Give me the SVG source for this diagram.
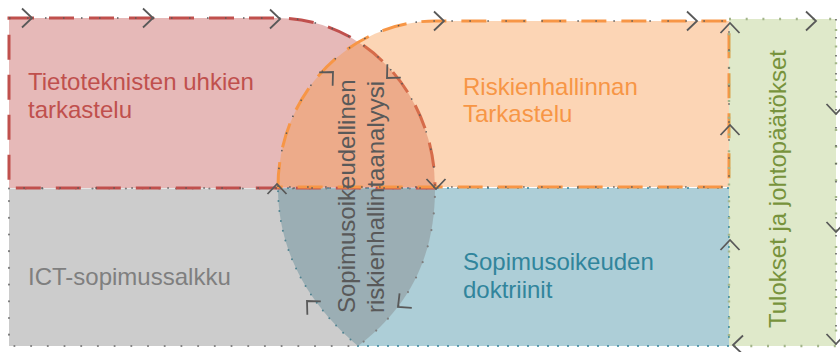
<svg xmlns="http://www.w3.org/2000/svg" xmlns:xlink="http://www.w3.org/1999/xlink" width="840" height="352" viewBox="0 0 840 352">
<style>
text{font-family:"Liberation Sans",Arial,sans-serif;font-size:24px}
.conn{fill:none;stroke:#595959;stroke-width:1.5;stroke-dasharray:1.5 16.5}
.chev{fill:none;stroke:#595959;stroke-width:1.8;stroke-linejoin:miter}
</style>
<defs>
<path id="chev" class="chev" d="M-10,-9.5 L0,0 L-10,9.5"/>
</defs>
<rect width="840" height="352" fill="#ffffff"/>
<g id="node-blue">
<path d="M278,188 H729 V346 H358 C315,310 278,258 278,188 Z" fill="#31859C" fill-opacity="0.4"/>
<path d="M278,188 H729 V346 H358 C315,310 278,258 278,188 Z" fill="none" stroke="#31859C" stroke-width="2" stroke-linecap="round" stroke-dasharray="0 10"/>
<text x="463" y="270" fill="#31859C">Sopimusoikeuden</text>
<text x="463" y="298" fill="#31859C">doktriinit</text>
</g>
<g id="node-grey">
<path d="M9,188.5 H435 C435,262 405,310 358,346 H9 Z" fill="#7F7F7F" fill-opacity="0.4"/>
<path d="M9,188.5 H435 C435,262 405,310 358,346 H9 Z" fill="none" stroke="#7F7F7F" stroke-width="2.2" stroke-linecap="round" stroke-dasharray="0 16.7"/>
<text x="28" y="285" fill="#7F7F7F">ICT-sopimussalkku</text>
</g>
<g id="node-red">
<path d="M9,18 H278 A157,170 0 0 1 435,188 H9 Z" fill="#C0504D" fill-opacity="0.4"/>
<path d="M9,18 H278 A157,170 0 0 1 435,188 H9 Z" fill="none" stroke="#C0504D" stroke-width="3" stroke-dasharray="25 15"/>
<text x="28" y="90" fill="#C0504D">Tietoteknisten uhkien</text>
<text x="28" y="118" fill="#C0504D">tarkastelu</text>
</g>
<g id="node-orange">
<path d="M278,187 A157,166 0 0 1 435,21 H729 V187 Z" fill="#F79646" fill-opacity="0.4"/>
<path d="M278,187 A157,166 0 0 1 435,21 H729 V187 Z" fill="none" stroke="#F79646" stroke-width="3" stroke-dasharray="25 15"/>
<text x="463" y="95" fill="#F79646">Riskienhallinnan</text>
<text x="463" y="122" fill="#F79646">Tarkastelu</text>
</g>
<g id="node-green">
<rect x="729" y="19" width="107" height="327" fill="#9BBB59" fill-opacity="0.32"/>
<rect x="729" y="19" width="107" height="327" fill="none" stroke="#A3B58A" stroke-width="2.4" stroke-dasharray="2 14.7"/>
<text transform="translate(786,328) rotate(-90)" fill="#77933C">Tulokset ja johtopäätökset</text>
</g>
<g id="node-center">
<text transform="translate(355,313) rotate(-90)" fill="#595959">Sopimusoikeudellinen</text>
<text transform="translate(384,313) rotate(-90)" fill="#595959">riskienhallintaanalyysi</text>
</g>
<g id="connectors">
<path class="conn" d="M9,18 H278 A157,170 0 0 1 435,188 H9"/>
<path class="conn" d="M278,187 A157,166 0 0 1 435,21 H729 V187 H278"/>
<path class="conn" d="M836,19 V346"/>
<use xlink:href="#chev" transform="translate(32,18)"/>
<use xlink:href="#chev" transform="translate(153,18)"/>
<use xlink:href="#chev" transform="translate(280,19)"/>
<use xlink:href="#chev" transform="translate(444,21)"/>
<use xlink:href="#chev" transform="translate(697,21)"/>
<use xlink:href="#chev" transform="translate(816,21)"/>
<use xlink:href="#chev" transform="translate(730,23) rotate(-90)"/>
<use xlink:href="#chev" transform="translate(730,125) rotate(-90)"/>
<use xlink:href="#chev" transform="translate(730,240) rotate(-90)"/>
<use xlink:href="#chev" transform="translate(836,114) rotate(90)"/>
<use xlink:href="#chev" transform="translate(836,232) rotate(90)"/>
<use xlink:href="#chev" transform="translate(836,344) rotate(90)"/>
<use xlink:href="#chev" transform="translate(733,345) rotate(180)"/>
<use xlink:href="#chev" transform="translate(277,184) rotate(-90)"/>
<use xlink:href="#chev" transform="translate(436,189) rotate(90)"/>
<use xlink:href="#chev" transform="translate(333,72) rotate(-45)"/>
<use xlink:href="#chev" transform="translate(387,78) rotate(135)"/>
<use xlink:href="#chev" transform="translate(307,301) rotate(-135)"/>
<use xlink:href="#chev" transform="translate(398,307) rotate(140)"/>
</g>
</svg>
